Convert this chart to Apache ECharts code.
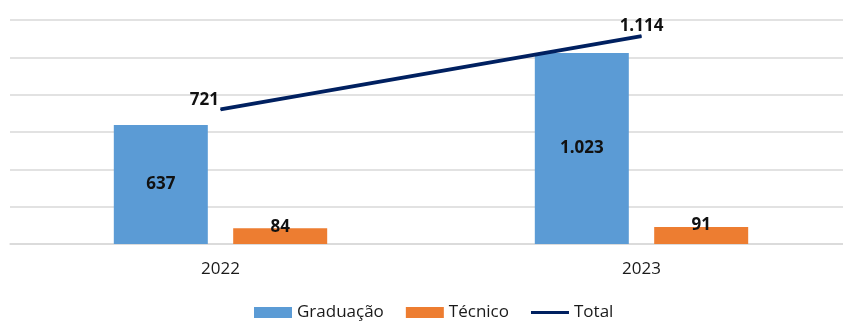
<!DOCTYPE html>
<html>
<head>
<meta charset="utf-8">
<script src="https://cdn.jsdelivr.net/npm/echarts@6/dist/echarts.min.js"></script>
<style>
  html, body { margin: 0; padding: 0; background: #fff; overflow: hidden; }
  /* um pouco mais largo que a janela: a grade do original passa da borda direita */
  #chart { width: 852px; height: 322px; }
</style>
</head>
<body>
<div id="chart"></div>
<script>
const anos = ['2022', '2023'];
const graduacao = [637, 1023];
const tecnico = [84, 91];
const total = [721, 1114];

// separador de milhar com ponto
const fmt = v => String(v).replace(/\B(?=(\d{3})+(?!\d))/g, '.');

const fonte = '"Open Sans", "Noto Sans", sans-serif';
const chart = echarts.init(document.getElementById('chart'), null, {renderer: 'canvas'});

const rotulo = {
  show: true,
  fontSize: 17,
  fontWeight: 'bold',
  color: '#111',
  fontFamily: fonte,
  formatter: p => fmt(p.value)
};

chart.setOption({
  animation: false,
  textStyle: {fontFamily: fonte},
  grid: {left: 10, right: 0, top: 20, height: 224, containLabel: false},
  legend: {
    top: 304,
    left: 254,
    padding: 0,
    itemWidth: 38,
    itemHeight: 11,
    itemGap: 22,
    textStyle: {fontSize: 17, color: '#1a1a1a', fontFamily: fonte},
    data: [
      {name: 'Graduação', icon: 'rect'},
      {name: 'Técnico', icon: 'rect'},
      {name: 'Total', icon: 'path://M0,0 L42,0 L42,3.5 L0,3.5 Z'}
    ]
  },
  xAxis: {
    type: 'category',
    data: anos,
    axisLine: {lineStyle: {color: '#d9d9d9', width: 1.5}},
    axisTick: {show: false},
    axisLabel: {fontSize: 17, color: '#1a1a1a', margin: 17}
  },
  yAxis: {
    type: 'value',
    min: 0,
    max: 1200,
    interval: 200,
    axisLabel: {show: false},
    axisLine: {show: false},
    axisTick: {show: false},
    splitLine: {lineStyle: {color: '#d9d9d9', width: 1.5}}
  },
  series: [
    {
      name: 'Graduação',
      type: 'bar',
      data: graduacao,
      barWidth: 94,
      barGap: '27%',
      itemStyle: {color: '#5b9bd5'},
      label: {...rotulo, position: 'inside'}
    },
    {
      name: 'Técnico',
      type: 'bar',
      data: tecnico,
      barWidth: 94,
      itemStyle: {color: '#ed7d31'},
      label: {...rotulo, position: 'top', distance: -7}
    },
    {
      name: 'Total',
      type: 'line',
      data: total.map((v, i) => ({
        value: v,
        label: i === 0
          ? {position: 'left', distance: 1, offset: [0, -9]}
          : {position: 'top', distance: 1}
      })),
      symbol: 'circle',
      symbolSize: 1,
      lineStyle: {color: '#002060', width: 3.8},
      itemStyle: {color: '#002060'},
      label: rotulo
    }
  ]
});
</script>
</body>
</html>
